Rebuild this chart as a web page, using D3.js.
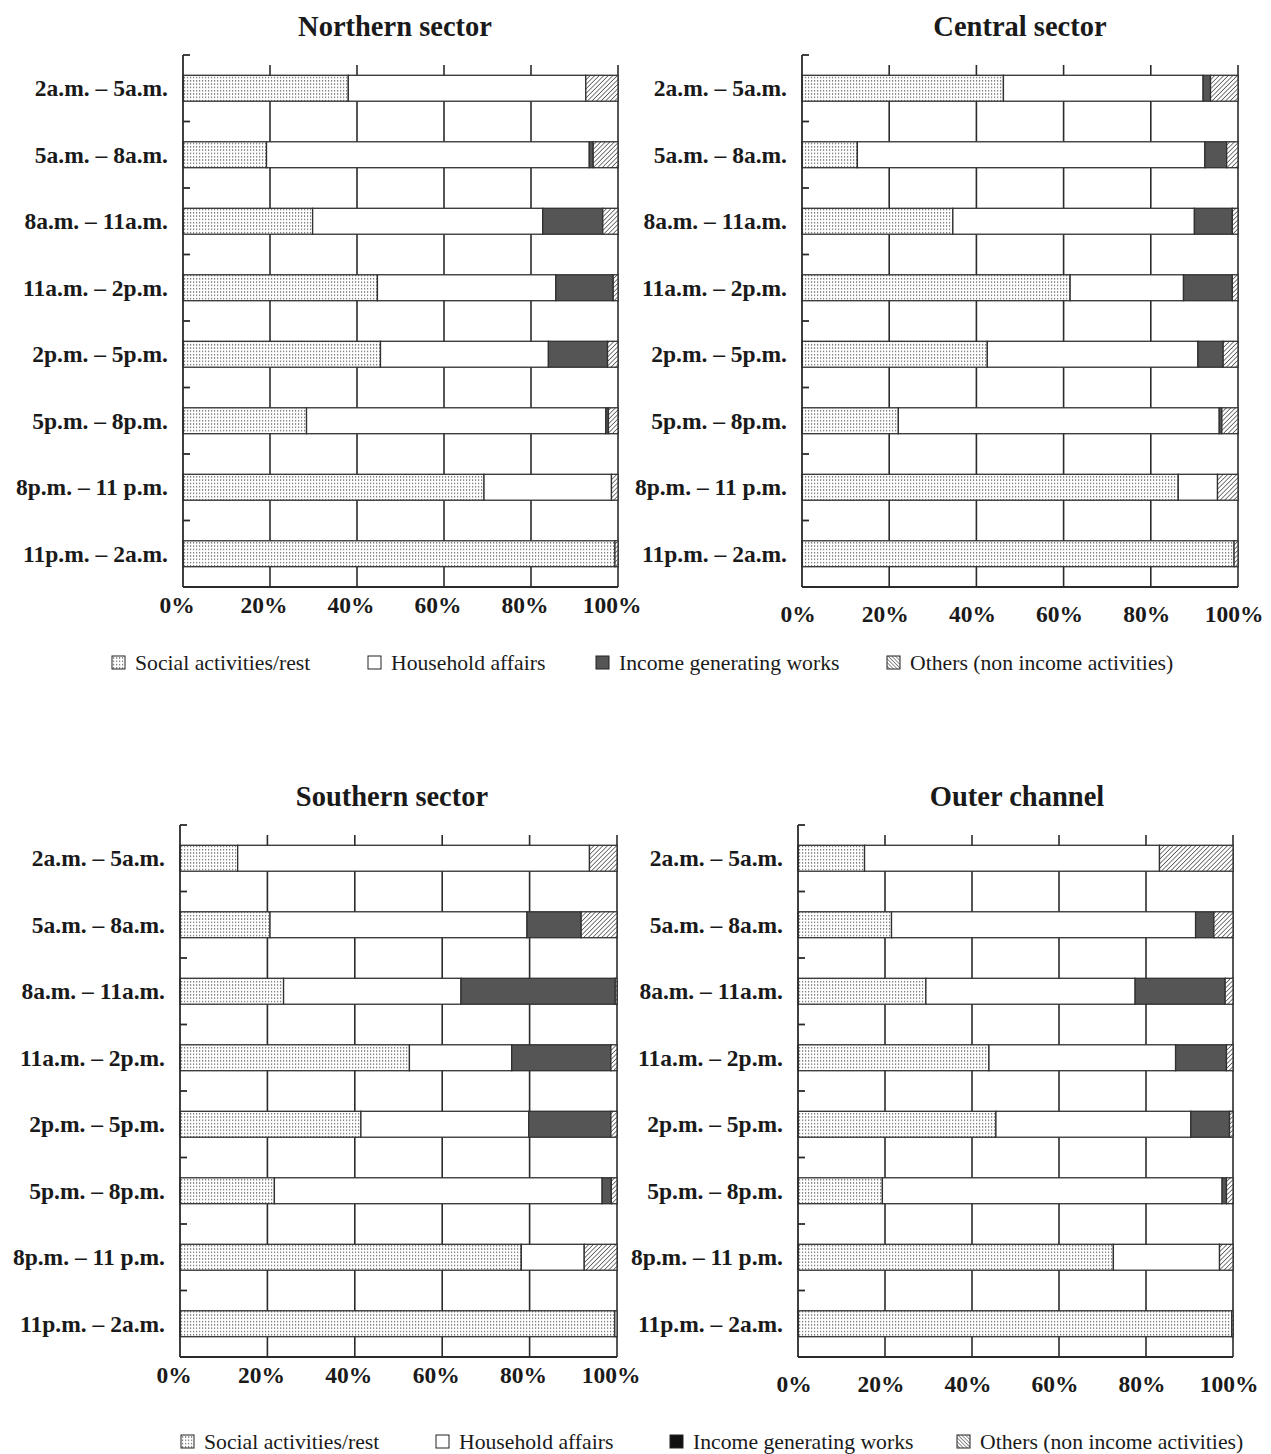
<!DOCTYPE html>
<html>
<head>
<meta charset="utf-8">
<script src="https://cdn.jsdelivr.net/npm/d3@7"></script>
<style>
  body { margin: 0; background: #fff; }
  text { font-family: "Liberation Serif", "Times New Roman", serif; fill: #1a1a1a; }
</style>
</head>
<body>
<script>
// time slots, top to bottom
const periods = [
  '2a.m. – 5a.m.', '5a.m. – 8a.m.', '8a.m. – 11a.m.', '11a.m. – 2p.m.',
  '2p.m. – 5p.m.', '5p.m. – 8p.m.', '8p.m. – 11 p.m.', '11p.m. – 2a.m.'
];
const activities = ['Social activities/rest', 'Household affairs', 'Income generating works', 'Others (non income activities)'];
const keys = ['social', 'household', 'income', 'others'];
const xTicks = [0, 20, 40, 60, 80, 100];

// share (%) per period: [social, household, income, others]
const northern = [
  [38.0, 54.6, 0, 7.4],
  [19.2, 74.2, 0.9, 5.7],
  [29.8, 52.9, 13.8, 3.5],
  [44.7, 41.0, 13.2, 1.1],
  [45.4, 38.6, 13.6, 2.4],
  [28.4, 68.8, 0.6, 2.2],
  [69.2, 29.3, 0, 1.5],
  [99.3, 0, 0, 0.7]
];
const central = [
  [46.2, 45.8, 1.7, 6.3],
  [12.7, 79.7, 5.0, 2.6],
  [34.6, 55.4, 8.7, 1.3],
  [61.5, 26.0, 11.2, 1.3],
  [42.5, 48.3, 5.8, 3.4],
  [22.1, 73.6, 0.6, 3.7],
  [86.3, 9.0, 0, 4.7],
  [99.1, 0, 0, 0.9]
];
const southern = [
  [13.2, 80.5, 0, 6.3],
  [20.6, 58.8, 12.4, 8.2],
  [23.7, 40.6, 35.3, 0.4],
  [52.5, 23.4, 22.7, 1.4],
  [41.4, 38.4, 18.8, 1.4],
  [21.6, 75.0, 2.1, 1.3],
  [78.1, 14.4, 0, 7.5],
  [99.5, 0.5, 0, 0]
];
const outer = [
  [15.3, 67.8, 0, 16.9],
  [21.5, 69.9, 4.2, 4.4],
  [29.4, 48.1, 20.7, 1.8],
  [43.9, 42.9, 11.7, 1.5],
  [45.5, 44.8, 8.9, 0.8],
  [19.4, 78.1, 1.0, 1.5],
  [72.5, 24.4, 0, 3.1],
  [99.7, 0, 0, 0.3]
];

// panel frames
const panels = [
  { title: 'Northern sector', rows: northern, left: 183, right: 618, top: 55, bottom: 587, titleX: 395, titleY: 36, tickY: 613, tickDx: -6 },
  { title: 'Central sector', rows: central, left: 802, right: 1238, top: 55, bottom: 587, titleX: 1020, titleY: 36, tickY: 622, tickDx: -4 },
  { title: 'Southern sector', rows: southern, left: 180, right: 617, top: 825, bottom: 1357, titleX: 392, titleY: 806, tickY: 1383, tickDx: -6 },
  { title: 'Outer channel', rows: outer, left: 798, right: 1233, top: 825, bottom: 1357, titleX: 1017, titleY: 806, tickY: 1392, tickDx: -4 }
];

const legends = [
  { y: 663, squares: [112, 368, 596, 887], incomeFill: '#555' },
  { y: 1442, squares: [181, 436, 670, 957], incomeFill: '#111' }
];

const svg = d3.select('body')
  .append('svg')
    .attr('width', 1271)
    .attr('height', 1454);

const defs = svg.append('defs');

const dots = defs.append('pattern')
  .attr('id', 'dots')
  .attr('patternUnits', 'userSpaceOnUse')
  .attr('width', 3)
  .attr('height', 3.3);
dots.append('rect').attr('width', 3).attr('height', 3.3).attr('fill', '#fff');
dots.append('rect').attr('x', 1).attr('y', 1).attr('width', 1.2).attr('height', 1.2).attr('fill', '#5a5a5a');

const hatch = defs.append('pattern')
  .attr('id', 'hatch')
  .attr('patternUnits', 'userSpaceOnUse')
  .attr('width', 3.2)
  .attr('height', 3.2)
  .attr('patternTransform', 'rotate(45)');
hatch.append('rect').attr('width', 3.2).attr('height', 3.2).attr('fill', '#fff');
hatch.append('line').attr('x1', 0).attr('y1', 0).attr('x2', 0).attr('y2', 3.2)
  .attr('stroke', '#333').attr('stroke-width', 1.3);

const hatchLegend = defs.append('pattern')
  .attr('id', 'hatchLegend')
  .attr('patternUnits', 'userSpaceOnUse')
  .attr('width', 2.6)
  .attr('height', 2.6)
  .attr('patternTransform', 'rotate(-45)');
hatchLegend.append('rect').attr('width', 2.6).attr('height', 2.6).attr('fill', '#fff');
hatchLegend.append('line').attr('x1', 0).attr('y1', 0).attr('x2', 0).attr('y2', 2.6)
  .attr('stroke', '#333').attr('stroke-width', 1.1);

const fills = { social: 'url(#dots)', household: '#fff', income: '#555', others: 'url(#hatch)' };
const lineColor = '#2b2b2b';

const stack = d3.stack().keys(keys);

const drawPanel = p => {
  const g = svg.append('g');
  const data = p.rows.map((r, i) => ({ period: periods[i], social: r[0], household: r[1], income: r[2], others: r[3] }));

  const x = d3.scaleLinear().domain([0, 100]).range([p.left, p.right]);
  const y = d3.scaleBand()
    .domain(periods)
    .range([p.top, p.bottom])
    .paddingInner(0.61)
    .paddingOuter(0.305);
  const step = y.step();

  // vertical gridlines
  g.append('g')
    .selectAll('line')
    .data(xTicks.slice(1))
    .join('line')
      .attr('x1', d => x(d))
      .attr('x2', d => x(d))
      .attr('y1', p.top + 10)
      .attr('y2', p.bottom)
      .attr('stroke', lineColor)
      .attr('stroke-width', 1.6);

  // stacked bars
  g.append('g')
    .selectAll('g')
    .data(stack(data))
    .join('g')
      .attr('fill', d => fills[d.key])
    .selectAll('rect')
    .data(d => d.filter(s => s[1] - s[0] > 0))
    .join('rect')
      .attr('x', d => x(d[0]))
      .attr('y', d => y(d.data.period))
      .attr('width', d => x(d[1]) - x(d[0]))
      .attr('height', y.bandwidth())
      .attr('stroke', '#303030')
      .attr('stroke-width', 1.3);

  // axes
  g.append('line')
    .attr('x1', p.left).attr('x2', p.left)
    .attr('y1', p.top).attr('y2', p.bottom)
    .attr('stroke', lineColor).attr('stroke-width', 1.8);
  g.append('line')
    .attr('x1', p.left).attr('x2', p.right)
    .attr('y1', p.bottom).attr('y2', p.bottom)
    .attr('stroke', lineColor).attr('stroke-width', 1.8);

  // inward category ticks at band edges
  const edges = d3.range(periods.length + 1).map(i => p.top + i * step);
  g.append('g')
    .selectAll('line')
    .data(edges)
    .join('line')
      .attr('x1', p.left)
      .attr('x2', p.left + 7)
      .attr('y1', d => d)
      .attr('y2', d => d)
      .attr('stroke', lineColor)
      .attr('stroke-width', 1.8);

  // category labels
  g.append('g')
    .selectAll('text')
    .data(periods)
    .join('text')
      .attr('x', p.left - 15)
      .attr('y', d => y(d) + y.bandwidth() / 2 + 8)
      .attr('text-anchor', 'end')
      .attr('font-size', 23.5)
      .attr('font-weight', 'bold')
      .text(d => d);

  // percentage labels
  g.append('g')
    .selectAll('text')
    .data(xTicks)
    .join('text')
      .attr('x', d => x(d) + p.tickDx)
      .attr('y', p.tickY)
      .attr('text-anchor', 'middle')
      .attr('font-size', 23.5)
      .attr('font-weight', 'bold')
      .text(d => d + '%');

  g.append('text')
    .attr('x', p.titleX)
    .attr('y', p.titleY)
    .attr('text-anchor', 'middle')
    .attr('font-size', 28.5)
    .attr('font-weight', 'bold')
    .text(p.title);
};

panels.forEach(drawPanel);

const legendFills = (l) => ['url(#dots)', '#fff', l.incomeFill, 'url(#hatchLegend)'];

legends.forEach(l => {
  const item = svg.append('g')
    .selectAll('g')
    .data(activities)
    .join('g')
      .attr('transform', (d, i) => `translate(${l.squares[i]}, ${l.y})`);

  item.append('rect')
    .attr('x', 0)
    .attr('y', -7)
    .attr('width', 13)
    .attr('height', 13)
    .attr('fill', (d, i) => legendFills(l)[i])
    .attr('stroke', '#222')
    .attr('stroke-width', 1);

  item.append('text')
    .attr('x', 23)
    .attr('y', 7)
    .attr('font-size', 21.7)
    .text(d => d);
});
</script>
</body>
</html>
